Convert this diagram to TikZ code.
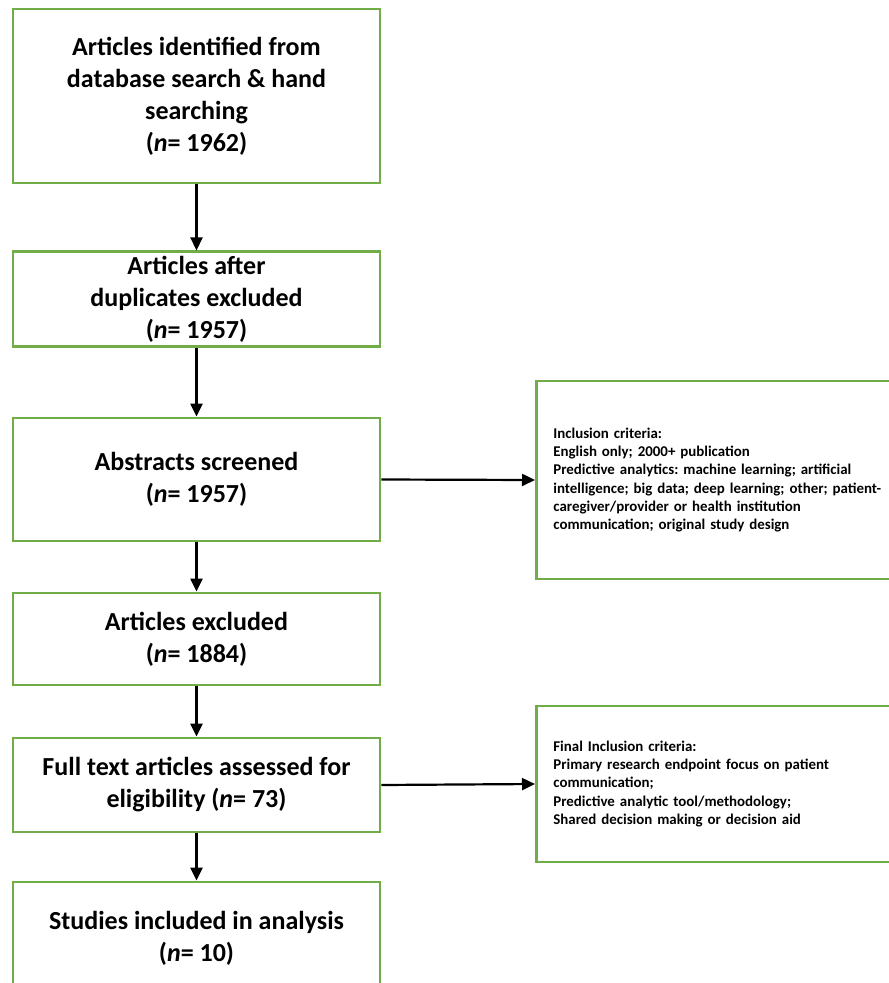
\documentclass[tikz,border=0pt]{standalone}
\usepackage{fontspec}
\setmainfont{Carlito}
\usetikzlibrary{arrows.meta}
\definecolor{boxgreen}{RGB}{112,173,71}
\frenchspacing

\begin{document}
\begin{tikzpicture}[
		x=1pt, y=-1pt,
		mainbox/.style={rectangle, draw=boxgreen, line width=2.8pt, minimum width=367pt, align=center, inner sep=4pt, font=\fontsize{26}{32}\selectfont\bfseries},
		critbox/.style={rectangle, draw=boxgreen, line width=2.8pt, anchor=west, text width=345pt, inner xsep=17pt, align=left, font=\fontsize{14.9}{18.2}\selectfont\bfseries},
		flow/.style={-{Triangle[length=13pt, width=12pt]}, line width=2.2pt}
	]
  \useasboundingbox (0, 0) rectangle (889, 983);
  \node (identified) [mainbox, minimum height=174pt] at (196.5, 96) {Articles identified from\\database search \& hand\\searching\\(\textit{n}= 1962)};
  \node (after_dup) [mainbox, minimum height=92pt] at (196.5, 299) {Articles after\\duplicates excluded\\(\textit{n}= 1957)};
  \node (screened) [mainbox, minimum height=123pt] at (196.5, 479.5) {Abstracts screened\\(\textit{n}= 1957)};
  \node (excluded) [mainbox, minimum height=92pt] at (196.5, 639) {Articles excluded\\(\textit{n}= 1884)};
  \node (full_text) [mainbox, minimum height=94pt] at (196.5, 785) {Full text articles assessed for\\eligibility (\textit{n}= 73)};
  \node (included) [mainbox, minimum height=112pt] at (196.5, 938) {Studies included in analysis\\(\textit{n}= 10)};
  \node (crit_incl) [critbox, minimum height=198pt] at (535, 480) {Inclusion criteria:\\English only; 2000+ publication\\Predictive analytics: machine learning; artificial\\intelligence; big data; deep learning; other; patient-\\caregiver/provider or health institution\\communication; original study design};
  \node (crit_final) [critbox, minimum height=156pt] at (535, 784) {Final Inclusion criteria:\\Primary research endpoint focus on patient\\communication;\\Predictive analytic tool/methodology;\\Shared decision making or decision aid};
  \draw [flow] (identified) -- (after_dup);
  \draw [flow] (after_dup) -- (screened);
  \draw [flow] (screened) -- (excluded);
  \draw [flow] (excluded) -- (full_text);
  \draw [flow] (full_text) -- (included);
  \draw [flow] (screened.east) -- (crit_incl.west);
  \draw [flow] (full_text.east) -- (crit_final.west);
\end{tikzpicture}
\end{document}
